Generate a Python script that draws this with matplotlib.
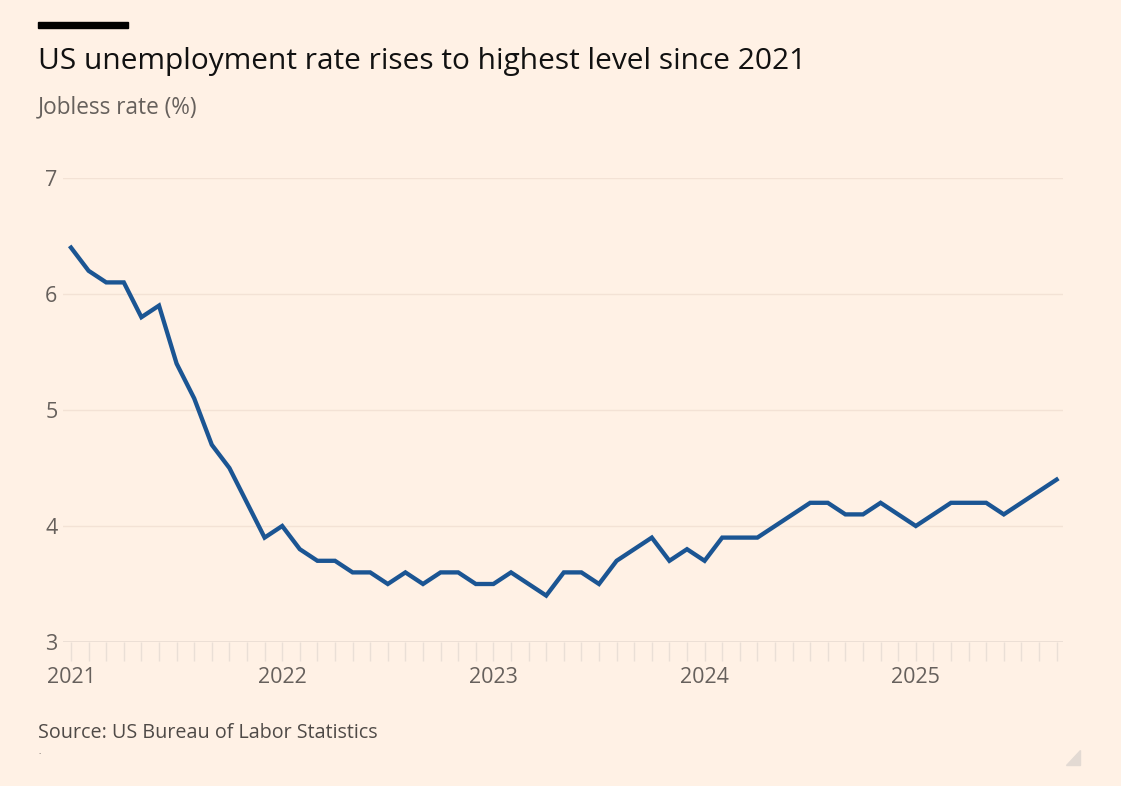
import matplotlib.pyplot as plt
from matplotlib.patches import Polygon, Rectangle

# Monthly US unemployment rate, Jan 2021 - Sep 2025
rate_2021 = [6.4, 6.2, 6.1, 6.1, 5.8, 5.9, 5.4, 5.1, 4.7, 4.5, 4.2, 3.9]
rate_2022 = [4.0, 3.8, 3.7, 3.7, 3.6, 3.6, 3.5, 3.6, 3.5, 3.6, 3.6, 3.5]
rate_2023 = [3.5, 3.6, 3.5, 3.4, 3.6, 3.6, 3.5, 3.7, 3.8, 3.9, 3.7, 3.8]
rate_2024 = [3.7, 3.9, 3.9, 3.9, 4.0, 4.1, 4.2, 4.2, 4.1, 4.1, 4.2, 4.1]
rate_2025 = [4.0, 4.1, 4.2, 4.2, 4.2, 4.1, 4.2, 4.3, 4.4]

years = [2021, 2022, 2023, 2024, 2025]
y_ticks = [3, 4, 5, 6, 7]

rates = rate_2021 + rate_2022 + rate_2023 + rate_2024 + rate_2025
months = list(range(len(rates)))

BG = "#FFF1E5"
LINE = "#1B5593"
GREY = "#66605C"

plt.rcParams["font.family"] = ["Open Sans", "DejaVu Sans"]

fig = plt.figure(figsize=(11.21, 7.86), dpi=100, facecolor=BG)
ax = fig.add_axes([63 / 1121, 1 - 642 / 786, 1000 / 1121, 464 / 786])
ax.set_facecolor(BG)

ax.plot(months, rates, color=LINE, linewidth=3.1, solid_joinstyle="miter", clip_on=False, zorder=3)

ax.set_xlim(-8 / 17.6, 992 / 17.6)
ax.set_ylim(3, 7)

# gridlines
for y in y_ticks[1:]:
    ax.axhline(y, color="#F3E2D5", linewidth=1, zorder=1)
ax.axhline(3, color="#E9DCD2", linewidth=1.2, zorder=2)

for s in ax.spines.values():
    s.set_visible(False)

ax.set_yticks(y_ticks)
ax.set_yticklabels([str(v) for v in y_ticks], fontsize=15.5, color=GREY)
ax.tick_params(axis="y", length=0, pad=4)

ax.set_xticks([(y - 2021) * 12 for y in years])
ax.set_xticklabels([str(y) for y in years], fontsize=15.5, color=GREY)
ax.set_xticks(range(0, len(rates)), minor=True)
ax.tick_params(axis="x", which="both", length=14, width=1, color="#EADFD6", direction="out", pad=4)

# header
fig.add_artist(Rectangle((38 / 1121, 1 - 28 / 786), 90 / 1121, 6 / 786,
                         transform=fig.transFigure, color="black"))
fig.text(38 / 1121, 1 - 61 / 786, "US unemployment rate rises to highest level since 2021",
         fontsize=21.5, color="#111111", va="center", ha="left")
fig.text(38 / 1121, 1 - 107 / 786, "Jobless rate (%)", fontsize=16.3, color=GREY,
         va="center", ha="left")
fig.text(38 / 1121, 1 - 733 / 786, "Source: US Bureau of Labor Statistics",
         fontsize=14.2, color="#4F4A47", va="center", ha="left")
fig.text(38 / 1121, 1 - 752 / 786, ".", fontsize=6, color="#4F4A47", va="center", ha="left")

# resize handle in the corner
fig.add_artist(Polygon([(1080 / 1121, 1 - 750 / 786), (1080 / 1121, 1 - 765 / 786),
                        (1066 / 1121, 1 - 765 / 786)], closed=True,
                       transform=fig.transFigure, color="#E3DAD3"))

fig.savefig("out.png", dpi=100, facecolor=BG)
